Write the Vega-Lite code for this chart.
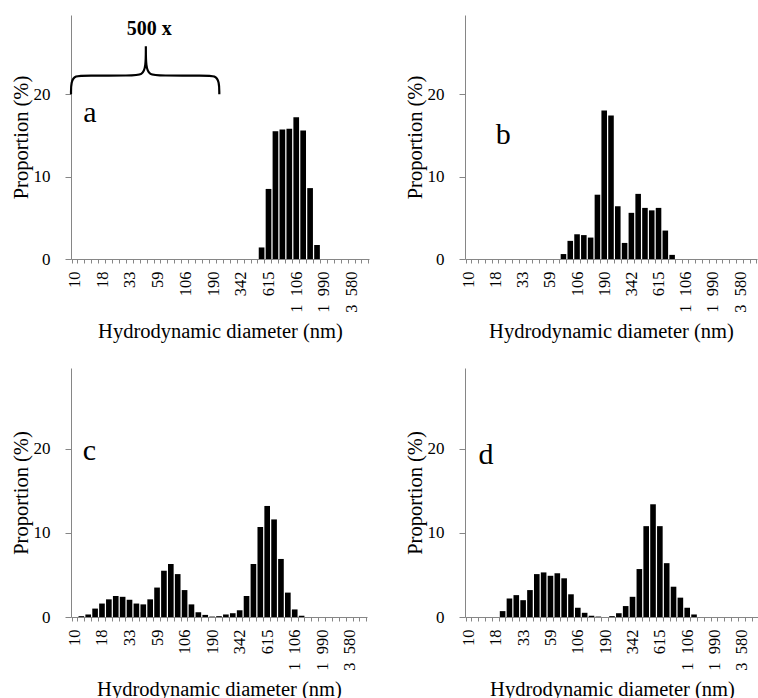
{
  "$schema": "https://vega.github.io/schema/vega-lite/v6.json",
  "background": "white",
  "padding": {"left": 11, "top": 15, "right": 0, "bottom": 0},
  "config": {
    "view": {"stroke": null},
    "font": "Liberation Serif",
    "axis": {
      "domainColor": "#868686",
      "tickColor": "#868686",
      "grid": false,
      "labelFont": "Liberation Serif",
      "labelColor": "#000000",
      "titleFont": "Liberation Serif",
      "titleFontWeight": "normal",
      "titleColor": "#000000",
      "titleFontSize": 20.5
    },
    "axisY": {"labelFontSize": 17, "tickSize": 6, "labelPadding": 15, "titlePadding": 2},
    "axisX": {"labelFontSize": 16.5, "labelAngle": 270, "tickBand": "extent", "tickSize": 4, "labelPadding": 8, "titlePadding": 9, "labelOverlap": false}
  },
  "datasets": {
    "psd": [
      {"panel": "a", "nm": 531.2, "pct": 1.4},
      {"panel": "a", "nm": 615.1, "pct": 8.5},
      {"panel": "a", "nm": 712.4, "pct": 15.5},
      {"panel": "a", "nm": 825, "pct": 15.7},
      {"panel": "a", "nm": 955.4, "pct": 15.8},
      {"panel": "a", "nm": 1106, "pct": 17.2},
      {"panel": "a", "nm": 1281, "pct": 15.6},
      {"panel": "a", "nm": 1484, "pct": 8.6},
      {"panel": "a", "nm": 1718, "pct": 1.7},

      {"panel": "b", "nm": 78.82, "pct": 0.6},
      {"panel": "b", "nm": 91.28, "pct": 2.2},
      {"panel": "b", "nm": 105.7, "pct": 3.0},
      {"panel": "b", "nm": 122.4, "pct": 2.9},
      {"panel": "b", "nm": 141.8, "pct": 2.6},
      {"panel": "b", "nm": 164.2, "pct": 7.8},
      {"panel": "b", "nm": 190.1, "pct": 18.0},
      {"panel": "b", "nm": 220.2, "pct": 17.4},
      {"panel": "b", "nm": 255, "pct": 6.4},
      {"panel": "b", "nm": 295.3, "pct": 1.95},
      {"panel": "b", "nm": 342, "pct": 5.6},
      {"panel": "b", "nm": 396.1, "pct": 7.9},
      {"panel": "b", "nm": 458.7, "pct": 6.2},
      {"panel": "b", "nm": 531.2, "pct": 5.9},
      {"panel": "b", "nm": 615.1, "pct": 6.2},
      {"panel": "b", "nm": 712.4, "pct": 3.45},
      {"panel": "b", "nm": 825, "pct": 0.5},

      {"panel": "c", "nm": 11.7, "pct": 0.1},
      {"panel": "c", "nm": 13.54, "pct": 0.3},
      {"panel": "c", "nm": 15.69, "pct": 1.0},
      {"panel": "c", "nm": 18.17, "pct": 1.6},
      {"panel": "c", "nm": 21.04, "pct": 2.1},
      {"panel": "c", "nm": 24.36, "pct": 2.5},
      {"panel": "c", "nm": 28.21, "pct": 2.4},
      {"panel": "c", "nm": 32.67, "pct": 2.05},
      {"panel": "c", "nm": 37.84, "pct": 1.6},
      {"panel": "c", "nm": 43.82, "pct": 1.5},
      {"panel": "c", "nm": 50.75, "pct": 2.1},
      {"panel": "c", "nm": 58.77, "pct": 3.5},
      {"panel": "c", "nm": 68.06, "pct": 5.5},
      {"panel": "c", "nm": 78.82, "pct": 6.3},
      {"panel": "c", "nm": 91.28, "pct": 5.1},
      {"panel": "c", "nm": 105.7, "pct": 3.2},
      {"panel": "c", "nm": 122.4, "pct": 1.5},
      {"panel": "c", "nm": 141.8, "pct": 0.55},
      {"panel": "c", "nm": 164.2, "pct": 0.25},
      {"panel": "c", "nm": 190.1, "pct": 0.05},
      {"panel": "c", "nm": 220.2, "pct": 0.1},
      {"panel": "c", "nm": 255, "pct": 0.3},
      {"panel": "c", "nm": 295.3, "pct": 0.45},
      {"panel": "c", "nm": 342, "pct": 0.8},
      {"panel": "c", "nm": 396.1, "pct": 2.5},
      {"panel": "c", "nm": 458.7, "pct": 6.3},
      {"panel": "c", "nm": 531.2, "pct": 10.7},
      {"panel": "c", "nm": 615.1, "pct": 13.2},
      {"panel": "c", "nm": 712.4, "pct": 11.6},
      {"panel": "c", "nm": 825, "pct": 6.9},
      {"panel": "c", "nm": 955.4, "pct": 2.9},
      {"panel": "c", "nm": 1106, "pct": 0.9},
      {"panel": "c", "nm": 1281, "pct": 0.15},

      {"panel": "d", "nm": 21.04, "pct": 0.7},
      {"panel": "d", "nm": 24.36, "pct": 2.2},
      {"panel": "d", "nm": 28.21, "pct": 2.6},
      {"panel": "d", "nm": 32.67, "pct": 2.0},
      {"panel": "d", "nm": 37.84, "pct": 3.2},
      {"panel": "d", "nm": 43.82, "pct": 5.1},
      {"panel": "d", "nm": 50.75, "pct": 5.3},
      {"panel": "d", "nm": 58.77, "pct": 4.9},
      {"panel": "d", "nm": 68.06, "pct": 5.2},
      {"panel": "d", "nm": 78.82, "pct": 4.6},
      {"panel": "d", "nm": 91.28, "pct": 2.7},
      {"panel": "d", "nm": 105.7, "pct": 1.1},
      {"panel": "d", "nm": 122.4, "pct": 0.5},
      {"panel": "d", "nm": 141.8, "pct": 0.15},
      {"panel": "d", "nm": 164.2, "pct": 0.05},
      {"panel": "d", "nm": 220.2, "pct": 0.1},
      {"panel": "d", "nm": 255, "pct": 0.45},
      {"panel": "d", "nm": 295.3, "pct": 1.3},
      {"panel": "d", "nm": 342, "pct": 2.4},
      {"panel": "d", "nm": 396.1, "pct": 5.7},
      {"panel": "d", "nm": 458.7, "pct": 10.8},
      {"panel": "d", "nm": 531.2, "pct": 13.4},
      {"panel": "d", "nm": 615.1, "pct": 10.8},
      {"panel": "d", "nm": 712.4, "pct": 6.4},
      {"panel": "d", "nm": 825, "pct": 3.6},
      {"panel": "d", "nm": 955.4, "pct": 2.3},
      {"panel": "d", "nm": 1106, "pct": 1.1},
      {"panel": "d", "nm": 1281, "pct": 0.3}
    ],
    "letters": [
      {"panel": "a", "label": "a", "pos": 2.74, "pct": 16.56},
      {"panel": "b", "label": "b", "pos": 5.64, "pct": 13.98},
      {"panel": "c", "label": "c", "pos": 2.66, "pct": 18.66},
      {"panel": "d", "label": "d", "pos": 3.07, "pct": 18.2}
    ],
    "magnification": [
      {"label": "500 x", "pos": 11.3, "pct": 27.9}
    ],
    "brace": [
      {"k": 0, "pos": 0, "pct": 20},
      {"k": 1, "pos": 0, "pct": 21.5},
      {"k": 2, "pos": 0.6, "pct": 22.25},
      {"k": 3, "pos": 2, "pct": 22.25},
      {"k": 4, "pos": 8.8, "pct": 22.25},
      {"k": 5, "pos": 10.3, "pct": 22.3},
      {"k": 6, "pos": 10.8, "pct": 23.3},
      {"k": 7, "pos": 10.8, "pct": 25.8},
      {"k": 8, "pos": 10.8, "pct": 25.8},
      {"k": 9, "pos": 10.8, "pct": 25.8},
      {"k": 10, "pos": 10.8, "pct": 23.3},
      {"k": 11, "pos": 11.3, "pct": 22.3},
      {"k": 12, "pos": 12.8, "pct": 22.25},
      {"k": 13, "pos": 19.4, "pct": 22.25},
      {"k": 14, "pos": 20.8, "pct": 22.25},
      {"k": 15, "pos": 21.4, "pct": 21.5},
      {"k": 16, "pos": 21.4, "pct": 20}
    ]
  },
  "bounds": "flush",
  "columns": 2,
  "spacing": {"row": 109, "column": 96},
  "concat": [
    {
      "width": 298,
      "height": 244,
      "encoding": {
        "y": {"field": "pct", "type": "quantitative", "scale": {"domain": [0, 29.6], "nice": false}, "axis": {"title": "Proportion (%)", "values": [0, 10, 20]}}
      },
      "layer": [
        {
          "data": {"name": "psd"},
          "transform": [{"filter": "datum.panel === 'a'"}],
          "mark": {"type": "bar", "color": "#000000"},
          "encoding": {
            "x": {
              "field": "nm", "type": "ordinal",
              "scale": {"domain": [10.1,11.7,13.54,15.69,18.17,21.04,24.36,28.21,32.67,37.84,43.82,50.75,58.77,68.06,78.82,91.28,105.7,122.4,141.8,164.2,190.1,220.2,255,295.3,342,396.1,458.7,531.2,615.1,712.4,825,955.4,1106,1281,1484,1718,1990,2305,2669,3091,3580,4145,4801], "paddingInner": 0.18, "paddingOuter": 0.09},
              "axis": {"title": "Hydrodynamic diameter (nm)", "labelExpr": "indexof([10.1,18.17,32.67,58.77,105.7,190.1,342,615.1,1106,1990,3580], datum.value) >= 0 ? replace(format(datum.value, ',.0f'), ',', '\u00a0\u00a0') : ''"}
            }
          }
        },
        {
          "data": {"name": "brace"},
          "mark": {"type": "line", "color": "#000000", "strokeWidth": 2.2, "interpolate": "basis"},
          "encoding": {
            "x": {"field": "pos", "type": "quantitative", "scale": {"domain": [0, 43], "nice": false, "zero": false}, "axis": null},
            "order": {"field": "k", "type": "quantitative"}
          }
        },
        {
          "data": {"name": "magnification"},
          "mark": {"type": "text", "font": "Liberation Serif", "fontSize": 20, "fontWeight": "bold", "align": "center", "baseline": "middle", "color": "#000000"},
          "encoding": {
            "x": {"field": "pos", "type": "quantitative", "scale": {"domain": [0, 43], "nice": false, "zero": false}, "axis": null},
            "text": {"field": "label"}
          }
        },
        {
          "data": {"name": "letters"},
          "transform": [{"filter": "datum.panel === 'a'"}],
          "mark": {"type": "text", "font": "Liberation Serif", "fontSize": 30, "align": "center", "baseline": "alphabetic", "color": "#000000"},
          "encoding": {
            "x": {"field": "pos", "type": "quantitative", "scale": {"domain": [0, 43], "nice": false, "zero": false}, "axis": null},
            "text": {"field": "label"}
          }
        }
      ],
      "resolve": {"scale": {"x": "independent"}, "axis": {"x": "independent"}}
    },
    {
      "width": 292,
      "height": 244,
      "encoding": {
        "y": {"field": "pct", "type": "quantitative", "scale": {"domain": [0, 29.6], "nice": false}, "axis": {"title": "Proportion (%)", "values": [0, 10, 20]}}
      },
      "layer": [
        {
          "data": {"name": "psd"},
          "transform": [{"filter": "datum.panel === 'b'"}],
          "mark": {"type": "bar", "color": "#000000"},
          "encoding": {
            "x": {
              "field": "nm", "type": "ordinal",
              "scale": {"domain": [10.1,11.7,13.54,15.69,18.17,21.04,24.36,28.21,32.67,37.84,43.82,50.75,58.77,68.06,78.82,91.28,105.7,122.4,141.8,164.2,190.1,220.2,255,295.3,342,396.1,458.7,531.2,615.1,712.4,825,955.4,1106,1281,1484,1718,1990,2305,2669,3091,3580,4145,4801], "paddingInner": 0.18, "paddingOuter": 0.09},
              "axis": {"title": "Hydrodynamic diameter (nm)", "labelExpr": "indexof([10.1,18.17,32.67,58.77,105.7,190.1,342,615.1,1106,1990,3580], datum.value) >= 0 ? replace(format(datum.value, ',.0f'), ',', '\u00a0\u00a0') : ''"}
            }
          }
        },
        {
          "data": {"name": "letters"},
          "transform": [{"filter": "datum.panel === 'b'"}],
          "mark": {"type": "text", "font": "Liberation Serif", "fontSize": 30, "align": "center", "baseline": "alphabetic", "color": "#000000"},
          "encoding": {
            "x": {"field": "pos", "type": "quantitative", "scale": {"domain": [0, 43], "nice": false, "zero": false}, "axis": null},
            "text": {"field": "label"}
          }
        }
      ],
      "resolve": {"scale": {"x": "independent"}, "axis": {"x": "independent"}}
    },
    {
      "width": 296,
      "height": 249,
      "encoding": {
        "y": {"field": "pct", "type": "quantitative", "scale": {"domain": [0, 29.6], "nice": false}, "axis": {"title": "Proportion (%)", "values": [0, 10, 20]}}
      },
      "layer": [
        {
          "data": {"name": "psd"},
          "transform": [{"filter": "datum.panel === 'c'"}],
          "mark": {"type": "bar", "color": "#000000"},
          "encoding": {
            "x": {
              "field": "nm", "type": "ordinal",
              "scale": {"domain": [10.1,11.7,13.54,15.69,18.17,21.04,24.36,28.21,32.67,37.84,43.82,50.75,58.77,68.06,78.82,91.28,105.7,122.4,141.8,164.2,190.1,220.2,255,295.3,342,396.1,458.7,531.2,615.1,712.4,825,955.4,1106,1281,1484,1718,1990,2305,2669,3091,3580,4145,4801], "paddingInner": 0.18, "paddingOuter": 0.09},
              "axis": {"title": "Hydrodynamic diameter (nm)", "labelExpr": "indexof([10.1,18.17,32.67,58.77,105.7,190.1,342,615.1,1106,1990,3580], datum.value) >= 0 ? replace(format(datum.value, ',.0f'), ',', '\u00a0\u00a0') : ''"}
            }
          }
        },
        {
          "data": {"name": "letters"},
          "transform": [{"filter": "datum.panel === 'c'"}],
          "mark": {"type": "text", "font": "Liberation Serif", "fontSize": 30, "align": "center", "baseline": "alphabetic", "color": "#000000"},
          "encoding": {
            "x": {"field": "pos", "type": "quantitative", "scale": {"domain": [0, 43], "nice": false, "zero": false}, "axis": null},
            "text": {"field": "label"}
          }
        }
      ],
      "resolve": {"scale": {"x": "independent"}, "axis": {"x": "independent"}}
    },
    {
      "width": 294,
      "height": 249,
      "encoding": {
        "y": {"field": "pct", "type": "quantitative", "scale": {"domain": [0, 29.6], "nice": false}, "axis": {"title": "Proportion (%)", "values": [0, 10, 20]}}
      },
      "layer": [
        {
          "data": {"name": "psd"},
          "transform": [{"filter": "datum.panel === 'd'"}],
          "mark": {"type": "bar", "color": "#000000"},
          "encoding": {
            "x": {
              "field": "nm", "type": "ordinal",
              "scale": {"domain": [10.1,11.7,13.54,15.69,18.17,21.04,24.36,28.21,32.67,37.84,43.82,50.75,58.77,68.06,78.82,91.28,105.7,122.4,141.8,164.2,190.1,220.2,255,295.3,342,396.1,458.7,531.2,615.1,712.4,825,955.4,1106,1281,1484,1718,1990,2305,2669,3091,3580,4145,4801], "paddingInner": 0.18, "paddingOuter": 0.09},
              "axis": {"title": "Hydrodynamic diameter (nm)", "labelExpr": "indexof([10.1,18.17,32.67,58.77,105.7,190.1,342,615.1,1106,1990,3580], datum.value) >= 0 ? replace(format(datum.value, ',.0f'), ',', '\u00a0\u00a0') : ''"}
            }
          }
        },
        {
          "data": {"name": "letters"},
          "transform": [{"filter": "datum.panel === 'd'"}],
          "mark": {"type": "text", "font": "Liberation Serif", "fontSize": 30, "align": "center", "baseline": "alphabetic", "color": "#000000"},
          "encoding": {
            "x": {"field": "pos", "type": "quantitative", "scale": {"domain": [0, 43], "nice": false, "zero": false}, "axis": null},
            "text": {"field": "label"}
          }
        }
      ],
      "resolve": {"scale": {"x": "independent"}, "axis": {"x": "independent"}}
    }
  ]
}
